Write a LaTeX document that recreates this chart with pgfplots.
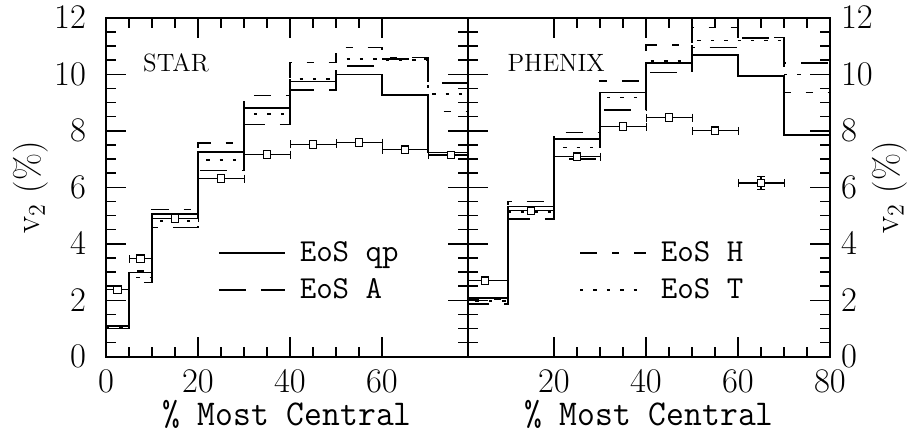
\documentclass[border=0pt]{standalone}
\usepackage{pgfplots}
\pgfplotsset{compat=1.18}
\usepackage{pgfplotstable}
\usepackage{graphicx}

% data points: centre, v2, x half-width, v2 error
\pgfplotstableread{
x y ex ey
2.5 2.37 2.5 0
7.5 3.47 2.5 0
15 4.90 5 0
25 6.31 5 0
35 7.16 5 0
45 7.52 5 0
55 7.58 5 0
65 7.33 5 0
75 7.14 5 0
}\stardata
\pgfplotstableread{
x y ex ey
5 2.69 5 0
15 5.17 5 0
25 7.08 5 0
35 8.15 5 0
45 8.47 5 0
55 8.00 5 0
65 6.15 5 0.22
}\phenixdata

% hydro histograms (left bin edges, last value repeated at 80)
\pgfplotstableread{
x qp A H T
0  1.08 1.00 1.10 1.03
5  2.98 2.63 3.04 2.81
10 5.05 4.58 5.22 4.81
20 7.26 6.60 7.56 6.97
30 8.80 8.23 9.25 8.60
40 9.75 9.45 10.42 9.83
50 10.00 10.30 10.95 10.54
60 9.26 10.55 10.60 10.50
70 7.23 9.69 8.68 9.30
80 7.23 9.69 8.68 9.30
}\starhydro
\pgfplotstableread{
x qp A H T
0  2.08 1.87 2.05 1.98
10 5.32 4.88 5.50 5.12
20 7.70 7.00 7.94 7.41
30 9.36 8.74 9.77 9.18
40 10.39 10.07 11.03 10.48
50 10.69 10.95 11.66 11.20
60 9.95 11.28 11.30 11.20
70 7.86 10.39 9.36 10.00
80 7.86 10.39 9.36 10.00
}\phenixhydro

\pgfplotsset{
  panel/.style={
    scale only axis, width=181pt, height=169.5pt, anchor=south west,
    ymin=0, ymax=12, ytick={0,2,...,12}, minor y tick num=3,
    minor x tick num=3,
    tick align=inside, major tick length=10pt, minor tick length=5pt,
    axis line style={line width=1pt},
    every tick/.style={line width=0.7pt, black},
    tick label style={font=\fontsize{16}{18}\selectfont},
    xticklabel style={yshift=-3pt},
    xlabel={\scalebox{1}[1.05]{\% Most Central}},
    every axis x label/.style={at={(axis description cs:0.5,-0.17)}, anchor=center,
      inner sep=0pt, font=\fontsize{17.3}{20}\selectfont\ttfamily},
    legend style={draw=none, fill=none, anchor=north west, inner sep=0pt, row sep=4pt,
      column sep=5.5pt,
      font=\fontsize{16}{19}\selectfont\ttfamily, nodes={inner sep=1.5pt}},
    legend image code/.code={\draw[##1] (0pt,0pt) -- (33pt,0pt);},
    legend cell align=left,
    clip=true,
  },
  qp/.style={black, line width=0.8pt, const plot, mark=none},
  eosA/.style={black, line width=0.8pt, const plot, mark=none, dash pattern=on 13.5pt off 7.5pt},
  eosH/.style={black, line width=0.8pt, const plot, mark=none, dash pattern=on 8.5pt off 7.5pt on 3.5pt off 7.5pt},
  eosT/.style={black, line width=0.8pt, const plot, mark=none, dash pattern=on 1.7pt off 5pt},
  pts/.style={black, line width=0.6pt, only marks, mark=square*, mark size=1.9pt,
    mark options={fill=white, solid, line width=0.6pt},
    error bars/.cd, x dir=both, x explicit, y dir=both, y explicit,
    error bar style={line width=0.6pt, solid}, error mark options={rotate=90, mark size=2pt}},
}

\begin{document}
\begin{tikzpicture}
\path (0pt,0pt) rectangle (460.5pt,214.5pt);
\begin{axis}[panel, at={(53pt,39pt)},
  xmin=0, xmax=78.7, xtick={0,20,40,60},
  yticklabel pos=left, ytick pos=both, xtick pos=both,
  yticklabel style={xshift=-6.5pt},
  ylabel={v$_2$ (\%)},
  every axis y label/.style={at={(axis description cs:-0.207,0.5)}, rotate=90, anchor=center,
    font=\fontsize{17.5}{20}\selectfont},
  legend style={at={(axis cs:24.3,4.2)}},
]
\addplot[qp] table[x=x, y=qp] {\starhydro};
\addlegendentry{EoS qp}
\addplot[eosA] table[x=x, y=A] {\starhydro};
\addlegendentry{EoS A}
\addplot[eosH, forget plot] table[x=x, y=H] {\starhydro};
\addplot[eosT, forget plot] table[x=x, y=T] {\starhydro};
\addplot[forget plot, pts] table[x=x, y=y, x error=ex, y error=ey] {\stardata};
\node[anchor=west, inner sep=0pt, font=\fontsize{12.5}{14}\selectfont] at (axis cs:8,10.41) {STAR};
\end{axis}
\begin{axis}[panel, at={(234pt,39pt)},
  xmin=1.3, xmax=80, xtick={20,40,60,80},
  yticklabel pos=right, ytick pos=both, xtick pos=both,
  yticklabel style={xshift=2pt},
  ylabel={v$_2$ (\%)},
  every axis y label/.style={at={(axis description cs:1.165,0.5)}, rotate=90, anchor=center,
    font=\fontsize{17.5}{20}\selectfont},
  legend style={at={(axis cs:25.4,4.2)}},
]
\addplot[eosH] table[x=x, y=H] {\phenixhydro};
\addlegendentry{EoS H}
\addplot[eosT] table[x=x, y=T] {\phenixhydro};
\addlegendentry{EoS T}
\addplot[qp, forget plot] table[x=x, y=qp] {\phenixhydro};
\addplot[eosA, forget plot] table[x=x, y=A] {\phenixhydro};
\addplot[forget plot, pts] table[x=x, y=y, x error=ex, y error=ey] {\phenixdata};
\node[anchor=west, inner sep=0pt, font=\fontsize{12.5}{14}\selectfont] at (axis cs:9.8,10.41) {PHENIX};
\end{axis}
\end{tikzpicture}
\end{document}
